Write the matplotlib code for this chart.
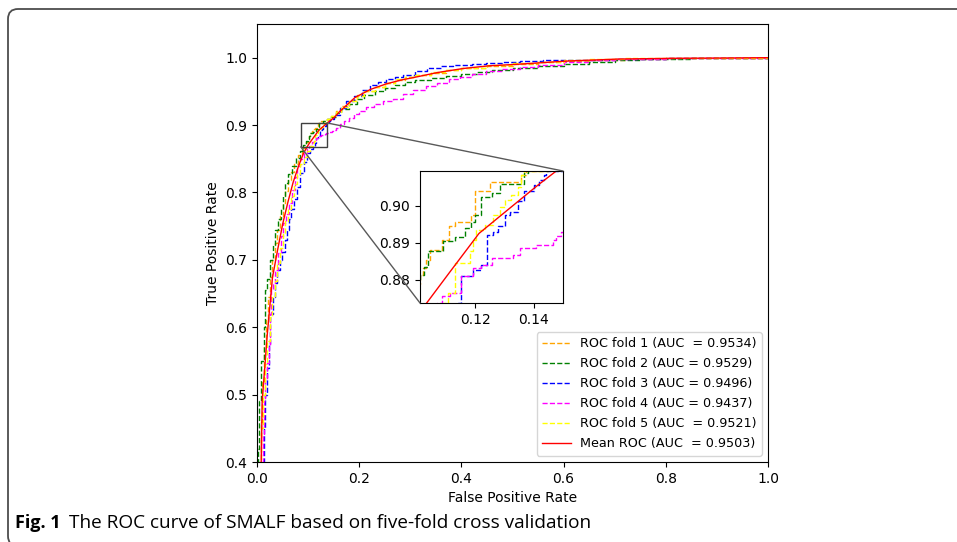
import matplotlib
matplotlib.use("Agg")
import matplotlib.pyplot as plt
from matplotlib.patches import FancyBboxPatch, Rectangle, ConnectionPatch
from matplotlib.transforms import IdentityTransform

# ---------------- data ----------------
fold1_fpr = [0.0, 0.004, 0.007, 0.010, 0.014, 0.018, 0.022, 0.026, 0.030, 0.035, 0.040, 0.045,
             0.050, 0.055, 0.060, 0.066, 0.072, 0.080, 0.088, 0.095, 0.099,
             0.1010, 0.1019, 0.1031, 0.1045, 0.1084, 0.1110, 0.1130, 0.1186, 0.1198, 0.1249,
             0.1357, 0.1374,
             0.145, 0.155, 0.165, 0.18, 0.195, 0.21, 0.23, 0.25, 0.27, 0.29, 0.31, 0.34, 0.37,
             0.40, 0.45, 0.50, 0.55, 0.60, 0.65, 0.72, 0.80, 0.90, 1.0]
fold1_tpr = [0.30, 0.40, 0.46, 0.52, 0.57, 0.61, 0.645, 0.675, 0.70, 0.725, 0.745, 0.765,
             0.785, 0.802, 0.818, 0.830, 0.842, 0.855, 0.866, 0.875, 0.879,
             0.8814, 0.8832, 0.8854, 0.8881, 0.8908, 0.8944, 0.8957, 0.8975, 0.9038, 0.9064,
             0.9082, 0.9093,
             0.914, 0.921, 0.928, 0.937, 0.944, 0.950, 0.956, 0.962, 0.967, 0.971, 0.974, 0.978, 0.981,
             0.984, 0.988, 0.991, 0.993, 0.995, 0.997, 0.998, 0.999, 1.0, 1.0]

fold2_fpr = [0.0, 0.002, 0.004, 0.008, 0.013, 0.016, 0.020, 0.026, 0.031, 0.036, 0.041, 0.046,
             0.050, 0.055, 0.061, 0.068, 0.076, 0.085, 0.090, 0.095, 0.099,
             0.1010, 0.1022, 0.1039, 0.1090, 0.1130, 0.1164, 0.1186, 0.1198, 0.1220, 0.1255,
             0.1283, 0.1368, 0.1380,
             0.145, 0.155, 0.165, 0.18, 0.195, 0.21, 0.23, 0.25, 0.27, 0.29, 0.31, 0.34, 0.37,
             0.40, 0.43, 0.46, 0.50, 0.55, 0.60, 0.65, 0.70, 0.75, 0.85, 0.92, 1.0]
fold2_tpr = [0.30, 0.42, 0.49, 0.55, 0.60, 0.655, 0.672, 0.700, 0.722, 0.745, 0.760, 0.775,
             0.795, 0.814, 0.827, 0.839, 0.851, 0.862, 0.870, 0.877, 0.880,
             0.8814, 0.8835, 0.8877, 0.8904, 0.8915, 0.8939, 0.8957, 0.8975, 0.9024, 0.9033,
             0.9058, 0.9087, 0.9096,
             0.912, 0.918, 0.924, 0.932, 0.939, 0.944, 0.950, 0.955, 0.960, 0.964, 0.967, 0.970, 0.973,
             0.976, 0.979, 0.982, 0.985, 0.988, 0.991, 0.994, 0.996, 0.998, 0.999, 1.0, 1.0]

fold3_fpr = [0.0, 0.012, 0.014, 0.016, 0.019, 0.023, 0.026, 0.031, 0.036, 0.040, 0.045, 0.049,
             0.054, 0.058, 0.062, 0.067, 0.072, 0.078, 0.085, 0.091, 0.098, 0.104, 0.110,
             0.1141, 0.1152, 0.1192, 0.1220, 0.1238, 0.1260, 0.1277, 0.1300, 0.1317, 0.1345,
             0.1368, 0.1402, 0.1419, 0.1436, 0.1442,
             0.150, 0.162, 0.175, 0.189, 0.205, 0.221, 0.237, 0.253, 0.27, 0.286, 0.31, 0.332,
             0.36, 0.384, 0.42, 0.449, 0.48, 0.515, 0.56, 0.62, 0.70, 0.80, 0.90, 1.0]
fold3_tpr = [0.25, 0.40, 0.45, 0.50, 0.54, 0.575, 0.62, 0.645, 0.665, 0.685, 0.700, 0.712,
             0.730, 0.745, 0.760, 0.775, 0.790, 0.808, 0.829, 0.845, 0.859, 0.864, 0.869,
             0.8738, 0.8810, 0.8828, 0.8841, 0.8921, 0.8930, 0.8944, 0.8975, 0.8984, 0.9011,
             0.9038, 0.9055, 0.9069, 0.9082, 0.9093,
             0.915, 0.926, 0.935, 0.943, 0.952, 0.960, 0.964, 0.968, 0.972, 0.975, 0.980, 0.985,
             0.987, 0.9886, 0.990, 0.9915, 0.993, 0.995, 0.996, 0.997, 0.998, 0.999, 1.0, 1.0]

fold4_fpr = [0.0, 0.0098, 0.011, 0.014, 0.016, 0.019, 0.0228, 0.025, 0.027, 0.031, 0.036, 0.041,
             0.046, 0.051, 0.056, 0.062, 0.068, 0.074, 0.079, 0.085, 0.092, 0.098, 0.102,
             0.1067, 0.1084, 0.1113, 0.1152, 0.1192, 0.1220, 0.1255, 0.1328, 0.1351, 0.1408,
             0.1465, 0.1476, 0.1493,
             0.155, 0.162, 0.170, 0.180, 0.189, 0.200, 0.214, 0.228, 0.247, 0.267, 0.285, 0.306,
             0.33, 0.352, 0.375, 0.397, 0.42, 0.449, 0.48, 0.515, 0.55, 0.60, 0.65, 0.70, 0.80,
             0.90, 1.0]
fold4_tpr = [0.25, 0.40, 0.44, 0.49, 0.523, 0.547, 0.572, 0.62, 0.656, 0.665, 0.685, 0.71,
             0.735, 0.755, 0.768, 0.785, 0.803, 0.823, 0.840, 0.850, 0.858, 0.864, 0.869,
             0.8738, 0.8756, 0.8765, 0.8810, 0.8832, 0.8841, 0.8859, 0.8868, 0.8886, 0.8895,
             0.8908, 0.8917, 0.8930,
             0.896, 0.901, 0.906, 0.911, 0.916, 0.921, 0.927, 0.932, 0.935, 0.939, 0.946, 0.952,
             0.958, 0.963, 0.968, 0.972, 0.976, 0.980, 0.983, 0.986, 0.989, 0.993, 0.996, 0.998,
             0.999, 1.0, 1.0]

fold5_fpr = [0.0, 0.005, 0.008, 0.012, 0.016, 0.020, 0.025, 0.030, 0.035, 0.040, 0.045, 0.050,
             0.055, 0.060, 0.066, 0.072, 0.078, 0.085, 0.092, 0.098, 0.104,
             0.1090, 0.1107, 0.1130, 0.1181, 0.1192, 0.1203, 0.1232, 0.1260, 0.1283, 0.1300,
             0.1323, 0.1345, 0.1357, 0.1368,
             0.145, 0.155, 0.165, 0.18, 0.195, 0.21, 0.23, 0.25, 0.27, 0.29, 0.31, 0.34, 0.37,
             0.40, 0.45, 0.50, 0.55, 0.60, 0.65, 0.72, 0.80, 0.88, 1.0]
fold5_tpr = [0.30, 0.40, 0.45, 0.50, 0.545, 0.58, 0.615, 0.645, 0.668, 0.695, 0.718, 0.740,
             0.758, 0.775, 0.795, 0.812, 0.828, 0.842, 0.853, 0.862, 0.869,
             0.8738, 0.8765, 0.8846, 0.8877, 0.8908, 0.8933, 0.8948, 0.8975, 0.8997, 0.9015,
             0.9029, 0.9051, 0.9082, 0.9093,
             0.913, 0.920, 0.927, 0.936, 0.943, 0.950, 0.957, 0.963, 0.968, 0.972, 0.975, 0.979, 0.982,
             0.985, 0.989, 0.992, 0.994, 0.996, 0.998, 0.999, 0.9995, 1.0, 1.0]

mean_fpr = [0.0, 0.0101, 0.0202, 0.0303, 0.0404, 0.0505, 0.0606, 0.0707, 0.0808, 0.0909,
            0.1010, 0.1111, 0.1212, 0.1313, 0.1414, 0.1515, 0.1616, 0.1717, 0.1919, 0.2222,
            0.2525, 0.2828, 0.3030, 0.3535, 0.4040, 0.4545, 0.5051, 0.6061, 0.7071, 0.8081,
            0.9091, 1.0]
mean_tpr = [0.0, 0.49, 0.59, 0.674, 0.715, 0.754, 0.786, 0.815, 0.838, 0.858,
            0.8714, 0.882, 0.8925, 0.8990, 0.9055, 0.9116, 0.920, 0.927, 0.941, 0.953,
            0.961, 0.967, 0.970, 0.978, 0.984, 0.988, 0.990, 0.995, 0.998, 0.999,
            0.9995, 1.0]

fold_labels = ["ROC fold 1 (AUC  = 0.9534)", "ROC fold 2 (AUC = 0.9529)",
               "ROC fold 3 (AUC = 0.9496)", "ROC fold 4 (AUC = 0.9437)",
               "ROC fold 5 (AUC  = 0.9521)"]
mean_label = "Mean ROC (AUC  = 0.9503)"
fold_colors = ["orange", "green", "blue", "magenta", "yellow"]
main_xticks = [0.0, 0.2, 0.4, 0.6, 0.8, 1.0]
main_yticks = [0.4, 0.5, 0.6, 0.7, 0.8, 0.9, 1.0]
inset_xticks = [0.12, 0.14]
inset_yticks = [0.88, 0.89, 0.90]
caption_bold = "Fig. 1"
caption_text = "The ROC curve of SMALF based on five-fold cross validation"

folds = [(fold1_fpr, fold1_tpr), (fold2_fpr, fold2_tpr), (fold3_fpr, fold3_tpr),
         (fold4_fpr, fold4_tpr), (fold5_fpr, fold5_tpr)]

# ---------------- figure ----------------
W, H = 957, 542
fig = plt.figure(figsize=(W / 100, H / 100), dpi=100)
plt.rcParams['font.family'] = ['DejaVu Sans']


def fx(px):
    return px / W


def fy(py):
    return 1 - py / H


ax = fig.add_axes([fx(257), fy(462), fx(768) - fx(257), fy(24) - fy(462)])


def draw_curves(a):
    for (fp, tp), c, lab in zip(folds, fold_colors, fold_labels):
        a.plot(fp, tp, color=c, linestyle='--', linewidth=1, drawstyle='steps-post', label=lab)
    a.plot(mean_fpr, mean_tpr, color='red', linewidth=1, label=mean_label)


draw_curves(ax)
ax.set_xlim(0.0, 1.0)
ax.set_ylim(0.4, 1.05)
ax.set_xticks(main_xticks)
ax.set_yticks(main_yticks)
ax.tick_params(labelsize=10)
ax.set_xlabel("False Positive Rate", fontsize=10)
ax.set_ylabel("True Positive Rate", fontsize=10)
ax.legend(loc='lower right', fontsize=9.2, handlelength=2.3, labelspacing=0.55,
          borderaxespad=0.5, handletextpad=0.7)

# inset
axins = fig.add_axes([fx(420), fy(303), fx(563) - fx(420), fy(171) - fy(303)])
draw_curves(axins)
axins.set_xlim(0.101, 0.150)
axins.set_ylim(0.8738, 0.9093)
axins.set_xticks(inset_xticks)
axins.set_yticks(inset_yticks)
axins.set_xticklabels(["0.12", "0.14"])
axins.set_yticklabels(["0.88", "0.89", "0.90"])
axins.tick_params(labelsize=10)

# zoom indicator rectangle and connectors
rx0, rx1, ry0, ry1 = 0.0857, 0.1371, 0.8676, 0.9032
ax.add_patch(Rectangle((rx0, ry0), rx1 - rx0, ry1 - ry0, fill=False, edgecolor='0.25',
                       linewidth=1, zorder=5))
for (xa, ya), (xb, yb) in [((rx1, ry1), (1, 1)), ((rx0, ry0), (0, 0))]:
    con = ConnectionPatch(xyA=(xa, ya), coordsA=ax.transData, xyB=(xb, yb),
                          coordsB=axins.transAxes, color='0.35', linewidth=1)
    fig.add_artist(con)

# page frame
frame = FancyBboxPatch((8, -4), 1100, H - 9 + 4, boxstyle="round,pad=0,rounding_size=10",
                       transform=IdentityTransform(), fill=False, edgecolor='0.3',
                       linewidth=1.3)
fig.add_artist(frame)

# caption
t1 = fig.text(fx(15), fy(528), caption_bold, fontsize=13, fontweight='bold',
              family=['Open Sans', 'DejaVu Sans'], va='baseline', ha='left')
renderer = fig.canvas.get_renderer()
bb = t1.get_window_extent(renderer=renderer)
fig.text((bb.x1 + 8) / W, fy(528), caption_text, fontsize=13.7,
         family=['Open Sans', 'DejaVu Sans'], va='baseline', ha='left')

fig.savefig("out.png", dpi=100)
